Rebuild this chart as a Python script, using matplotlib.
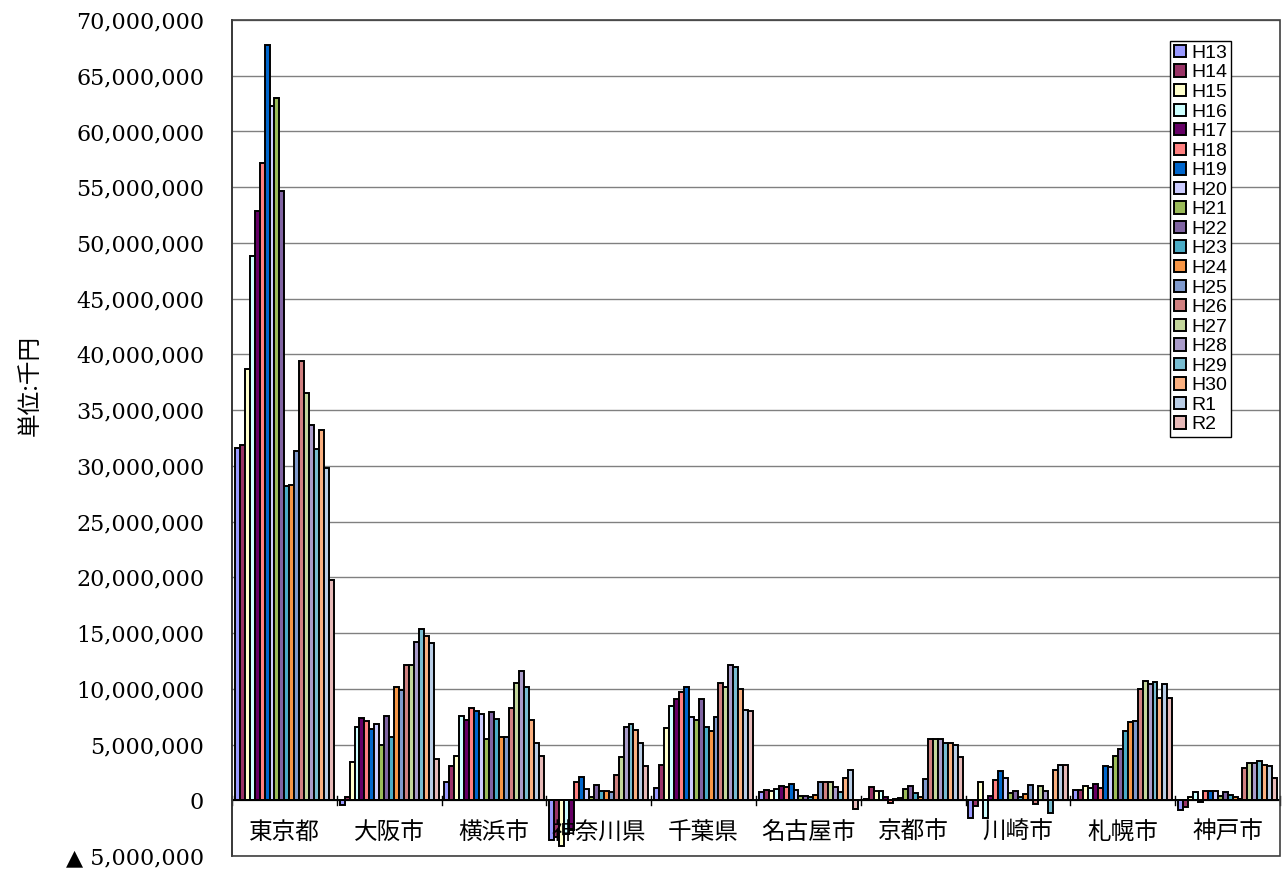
import matplotlib
matplotlib.use("Agg")
import matplotlib.pyplot as plt
from matplotlib.patches import Rectangle
from matplotlib.ticker import FuncFormatter, MultipleLocator
import numpy as np

# DATA (単位: 千円; values in millions)

cities = ["東京都", "大阪市", "横浜市", "神奈川県", "千葉県",
          "名古屋市", "京都市", "川崎市", "札幌市", "神戸市"]
years = ["H13", "H14", "H15", "H16", "H17", "H18", "H19", "H20", "H21", "H22",
         "H23", "H24", "H25", "H26", "H27", "H28", "H29", "H30", "R1", "R2"]

tokyo    = [31.6, 31.9, 38.7, 48.8, 52.9, 57.2, 67.8, 62.3, 63.0, 54.7,
            28.2, 28.3, 31.3, 39.4, 36.5, 33.7, 31.5, 33.2, 29.8, 19.8]
osaka    = [-0.4, 0.3, 3.4, 6.6, 7.4, 7.1, 6.4, 6.8, 5.0, 7.6,
            5.7, 10.2, 9.9, 12.1, 12.1, 14.2, 15.4, 14.7, 14.1, 3.7]
yokohama = [1.6, 3.1, 4.0, 7.6, 7.2, 8.3, 8.0, 7.7, 5.5, 7.9,
            7.3, 5.7, 5.7, 8.3, 10.5, 11.6, 10.2, 7.2, 5.1, 4.0]
kanagawa = [-3.6, -3.3, -4.1, -3.0, -2.7, 1.6, 2.1, 1.0, 0.3, 1.4,
            0.8, 0.8, 0.7, 2.3, 3.9, 6.6, 6.8, 6.3, 5.1, 3.1]
chiba    = [1.1, 3.2, 6.5, 8.5, 9.1, 9.7, 10.2, 7.5, 7.2, 9.1,
            6.6, 6.2, 7.5, 10.5, 10.2, 12.1, 12.0, 10.0, 8.1, 8.0]
nagoya   = [0.7, 0.9, 0.85, 1.05, 1.25, 1.15, 1.5, 0.9, 0.4, 0.4,
            0.3, 0.5, 1.65, 1.6, 1.6, 1.2, 0.75, 2.0, 2.7, -0.75]
kyoto    = [0.1, 1.2, 0.8, 0.8, 0.3, -0.25, 0.1, 0.2, 1.0, 1.25,
            0.65, 0.25, 1.95, 5.5, 5.5, 5.5, 5.15, 5.15, 5.0, 3.9]
kawasaki = [-1.6, -0.5, 1.6, -1.6, 0.4, 1.85, 2.6, 2.0, 0.65, 0.85,
            0.25, 0.55, 1.35, -0.3, 1.25, 0.8, -1.15, 2.7, 3.2, 3.2]
sapporo  = [0.9, 0.9, 1.25, 1.1, 1.5, 1.1, 3.05, 3.0, 4.0, 4.6,
            6.2, 7.0, 7.1, 10.0, 10.7, 10.4, 10.6, 9.2, 10.4, 9.2]
kobe     = [-0.9, -0.6, 0.3, 0.75, -0.2, 0.85, 0.85, 0.85, 0.35, 0.7,
            0.45, 0.25, 0.12, 2.85, 3.3, 3.35, 3.55, 3.15, 3.1, 2.0]

# STYLE

colors = ["#9999FF", "#993366", "#FFFFCC", "#CCFFFF", "#660066",
          "#FF8080", "#0066CC", "#CCCCFF", "#9BBB59", "#8064A2",
          "#4BACC6", "#F79646", "#7F9ACD", "#D08080", "#C3D69B",
          "#A99BC9", "#78BCD0", "#FAB080", "#B9CDE5", "#E6B9B8"]

plt.rcParams["font.family"] = ["Noto Sans CJK JP", "DejaVu Sans"]

# PLOT

table = np.array([tokyo, osaka, yokohama, kanagawa, chiba,
                  nagoya, kyoto, kawasaki, sapporo, kobe]) * 1e6

fig = plt.figure(figsize=(12.84, 8.72), dpi=100)
ax = fig.add_axes([232 / 1284, 16 / 872, 1048 / 1284, 836 / 872])

x = np.arange(len(cities))
group = 0.945
w = group / len(years)
for j, yr in enumerate(years):
    ax.bar(x - group / 2 + (j + 0.5) * w, table[:, j], width=w,
           color=colors[j], edgecolor="black", linewidth=1.4,
           label=yr, zorder=3)

ax.set_xlim(-0.5, len(cities) - 0.5)
ax.set_ylim(-5e6, 70e6)
ax.yaxis.set_major_locator(MultipleLocator(5e6))


def fmt(v, pos):
    if v < 0:
        return "▲ {:,.0f}".format(-v)
    return "{:,.0f}".format(v)


ax.yaxis.set_major_formatter(FuncFormatter(fmt))
for lab in ax.get_yticklabels():
    lab.set_family(["DejaVu Serif", "DejaVu Sans"])
ax.tick_params(axis="y", length=0, pad=20, labelsize=16)
ax.grid(axis="y", color="#808080", linewidth=1.0, zorder=0)

# category axis at zero
for s in ["top", "right", "bottom"]:
    ax.spines[s].set_visible(False)
ax.spines["left"].set_linewidth(1.2)
ax.axhline(0, color="black", linewidth=1.4, zorder=4)
ax.set_xticks(x + 0.5)
ax.set_xticklabels([])
ax.tick_params(axis="x", length=0)
for i in range(len(cities) + 1):
    ax.plot([i - 0.5, i - 0.5], [-0.4e6, 0.4e6], color="black",
            linewidth=1.0, zorder=4, clip_on=False)
for i, name in enumerate(cities):
    ax.annotate(name, (i, 0), xytext=(0, -32), textcoords="offset pixels",
                ha="center", va="center", fontsize=17, zorder=5)

ax.add_patch(Rectangle((0, 0), 1, 1, transform=ax.transAxes, fill=False,
                       edgecolor="#404040", linewidth=1.2, clip_on=False,
                       zorder=5))

fig.text(30 / 1284, 1 - 385 / 872, "単位:千円", rotation=90,
         ha="center", va="center", fontsize=17)

leg = ax.legend(loc="upper left", bbox_to_anchor=(1170 / 1284, 1 - 41 / 872),
                bbox_transform=fig.transFigure, fancybox=False, frameon=True,
                edgecolor="black", framealpha=1, borderpad=0.2,
                labelspacing=0.13, handlelength=0.6, handleheight=0.6,
                handletextpad=0.3, borderaxespad=0,
                prop={"family": "Liberation Sans", "size": 14})
leg.get_frame().set_linewidth(1.0)

fig.savefig("out.png", dpi=100)
